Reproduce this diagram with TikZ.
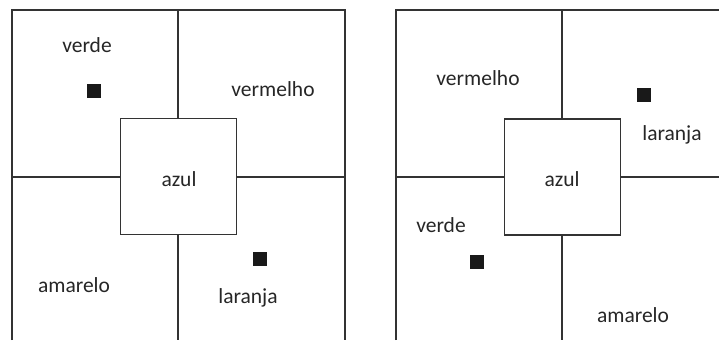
\documentclass[tikz,border=0pt]{standalone}
\usepackage{fontspec}
\setmainfont{Carlito}
\begin{document}
\begin{tikzpicture}[x=1pt,y=-1pt,
  wall/.style={draw=black!80, line width=1.6pt},
  lbl/.style={font=\fontsize{21.5}{24}\selectfont, text=black!85, inner sep=0pt},
  marker/.style={fill=black!90, minimum size=14pt, inner sep=0pt}]
\useasboundingbox (0,0) rectangle (719,340);
% left panel
\draw[wall] (12,340) -- (12,10) -- (345,10) -- (345,340);
\draw[wall] (178,10) -- (178,119);
\draw[wall] (178,234) -- (178,340);
\draw[wall] (12,177) -- (121,177);
\draw[wall] (236,177) -- (345,177);
\node[wall, minimum width=116pt, minimum height=116pt, inner sep=0pt] (boxL) at (178.5,176.5) {};
\node[lbl] (azulL) at (179,179) {azul};
\node[lbl] (verdeL) at (87,45) {verde};
\node[marker] (mL1) at (94,91) {};
\node[lbl] (vermelhoL) at (273,89) {vermelho};
\node[lbl] (amareloL) at (74,285) {amarelo};
\node[marker] (mL2) at (260,259) {};
\node[lbl] (laranjaL) at (248,298) {laranja};
% right panel
\draw[wall] (396,340) -- (396,10) -- (719,10);
\draw[wall] (562,10) -- (562,119);
\draw[wall] (562,235) -- (562,340);
\draw[wall] (396,177) -- (505,177);
\draw[wall] (620,177) -- (719,177);
\node[wall, minimum width=116pt, minimum height=116pt, inner sep=0pt] (boxR) at (562.3,177) {};
\node[lbl] (azulR) at (562,179) {azul};
\node[lbl] (vermelhoR) at (478,78) {vermelho};
\node[marker] (mR1) at (644,95) {};
\node[lbl] (laranjaR) at (672,135) {laranja};
\node[lbl] (verdeR) at (441,225) {verde};
\node[marker] (mR2) at (477,262) {};
\node[lbl] (amareloR) at (633,315) {amarelo};
\end{tikzpicture}
\end{document}
